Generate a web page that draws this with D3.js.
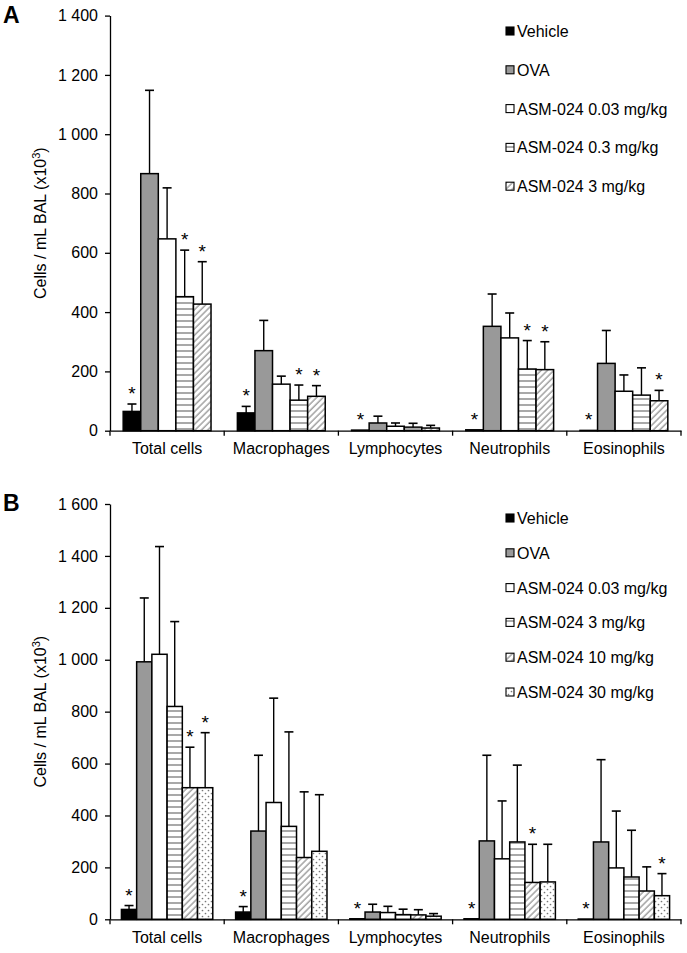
<!DOCTYPE html>
<html><head><meta charset="utf-8">
<script src="https://cdn.jsdelivr.net/npm/d3@7"></script>
<style>body{margin:0;background:#fff} text{font-family:"Liberation Sans",Arial,sans-serif;}</style>
</head><body>
<svg id="c" width="687" height="953"></svg>
<script>
// ---------- DATA ----------
const categories = ["Total cells", "Macrophages", "Lymphocytes", "Neutrophils", "Eosinophils"];

// Panel A
const seriesA = ["Vehicle", "OVA", "ASM-024 0.03 mg/kg", "ASM-024 0.3 mg/kg", "ASM-024 3 mg/kg"];
const a_vehicle      = [65, 60, 2, 3, 1];
const a_vehicleErr   = [25, 22, 0, 0, 0];
const a_ova          = [867, 270, 26, 352, 227];
const a_ovaErr       = [281, 102, 23, 109, 111];
const a_asm003       = [647, 157, 15, 313, 133];
const a_asm003Err    = [172, 27, 11, 84, 55];
const a_asm03        = [452, 103, 12, 208, 120];
const a_asm03Err     = [157, 51, 13, 96, 92];
const a_asm3         = [427, 116, 9, 206, 101];
const a_asm3Err      = [143, 36, 9, 94, 35];
const a_vehicleSig   = [1, 1, 1, 1, 1];
const a_ovaSig       = [0, 0, 0, 0, 0];
const a_asm003Sig    = [0, 0, 0, 0, 0];
const a_asm03Sig     = [1, 1, 0, 1, 0];
const a_asm3Sig      = [1, 1, 0, 1, 1];
const ticksA = [0, 200, 400, 600, 800, 1000, 1200, 1400];

// Panel B
const seriesB = ["Vehicle", "OVA", "ASM-024 0.03 mg/kg", "ASM-024 3 mg/kg", "ASM-024 10 mg/kg", "ASM-024 30 mg/kg"];
const b_vehicle      = [38, 28, 2, 2, 1];
const b_vehicleErr   = [15, 21, 0, 0, 0];
const b_ova          = [992, 340, 28, 302, 298];
const b_ovaErr       = [246, 292, 30, 330, 317];
const b_asm003       = [1021, 450, 26, 233, 198];
const b_asm003Err    = [415, 402, 24, 223, 219];
const b_asm3         = [820, 358, 18, 298, 163];
const b_asm3Err      = [327, 364, 21, 296, 180];
const b_asm10        = [507, 238, 17, 142, 109];
const b_asm10Err     = [156, 253, 20, 147, 93];
const b_asm30        = [507, 262, 12, 144, 91];
const b_asm30Err     = [212, 218, 10, 145, 85];
const b_vehicleSig   = [1, 1, 1, 1, 1];
const b_ovaSig       = [0, 0, 0, 0, 0];
const b_asm003Sig    = [0, 0, 0, 0, 0];
const b_asm3Sig      = [0, 0, 0, 0, 0];
const b_asm10Sig     = [1, 0, 0, 1, 0];
const b_asm30Sig     = [1, 0, 0, 0, 1];
const ticksB = [0, 200, 400, 600, 800, 1000, 1200, 1400, 1600];

// ---------- DRAW ----------
const svg = d3.select("#c");
const defs = svg.append("defs");

// patterns
const ph = defs.append("pattern").attr("id","hlines").attr("patternUnits","userSpaceOnUse").attr("width",6).attr("height",6);
ph.append("rect").attr("width",6).attr("height",6).attr("fill","#fff");
ph.append("line").attr("x1",0).attr("x2",6).attr("y1",3).attr("y2",3).attr("stroke","#7a7a7a").attr("stroke-width",1.3);

const pd = defs.append("pattern").attr("id","diag").attr("patternUnits","userSpaceOnUse").attr("width",4.5).attr("height",4.5).attr("patternTransform","rotate(45)");
pd.append("rect").attr("width",4.5).attr("height",4.5).attr("fill","#fff");
pd.append("line").attr("x1",1).attr("x2",1).attr("y1",0).attr("y2",4.5).attr("stroke","#7f7f7f").attr("stroke-width",1.1);

const pt = defs.append("pattern").attr("id","dots").attr("patternUnits","userSpaceOnUse").attr("width",6).attr("height",6);
pt.append("rect").attr("width",6).attr("height",6).attr("fill","#fff");
pt.append("circle").attr("cx",1.5).attr("cy",1.5).attr("r",0.85).attr("fill","#777");
pt.append("circle").attr("cx",4.5).attr("cy",4.5).attr("r",0.85).attr("fill","#777");

const fmt = d3.formatLocale({decimal:".", thousands:" ", grouping:[3], currency:["",""]}).format(",d");

function panel(cfg) {
  const g = svg.append("g");
  const y = d3.scaleLinear().domain([0, cfg.ticks[cfg.ticks.length-1]]).range([cfg.y0, cfg.y1]);
  const x = d3.scaleBand().domain(categories).range([110, 681]).padding(0);
  const xs = d3.scaleBand().domain(cfg.series.map((d,i)=>i)).range([0, x.bandwidth()]).paddingOuter(0.75).paddingInner(0);

  // y axis
  const ya = g.append("g").attr("transform","translate(110,0)")
    .call(d3.axisLeft(y).tickValues(cfg.ticks).tickFormat(fmt).tickSize(5).tickSizeOuter(0).tickPadding(7));
  ya.selectAll("path,line").attr("stroke","#000").attr("stroke-width",1.3);
  ya.selectAll("text").attr("font-size",16).attr("fill","#000").style("font-family",'"Liberation Sans",Arial,sans-serif');

  // bars
  cfg.series.forEach((s,i)=>{
    const vals = cfg.vals[i], errs = cfg.errs[i], sig = cfg.sig[i];
    const gs = g.append("g");
    categories.forEach((c,j)=>{
      const bx = x(c) + xs(i), bw = xs.bandwidth();
      const top = y(vals[j]);
      gs.append("rect").attr("x",bx).attr("y",top).attr("width",bw).attr("height",cfg.y0-top)
        .attr("fill",cfg.fills[i]).attr("stroke","#000").attr("stroke-width",1.5);
      let markTop = top;
      if (errs[j] > 0) {
        const ey = y(vals[j] + errs[j]);
        const cx = bx + bw/2;
        gs.append("line").attr("x1",cx).attr("x2",cx).attr("y1",top).attr("y2",ey).attr("stroke","#000").attr("stroke-width",1.4);
        gs.append("line").attr("x1",cx-4.5).attr("x2",cx+4.5).attr("y1",ey).attr("y2",ey).attr("stroke","#000").attr("stroke-width",1.6);
        markTop = ey;
      }
      if (sig[j]) {
        gs.append("text").attr("x",bx+bw/2).attr("y",markTop-4).attr("text-anchor","middle")
          .attr("font-size",19).text("*");
      }
    });
  });

  // x axis line + boundary ticks
  const xa = g.append("g").attr("transform",`translate(0,${cfg.y0})`)
    .call(d3.axisBottom(x).tickSize(0).tickPadding(12));
  xa.select("path").attr("stroke","#000").attr("stroke-width",1.3);
  xa.selectAll("text").attr("font-size",16).attr("fill","#000").style("font-family",'"Liberation Sans",Arial,sans-serif');
  const bounds = categories.map(c=>x(c)).concat([x(categories[categories.length-1]) + x.bandwidth()]);
  g.selectAll(".bt").data(bounds).enter().append("line")
    .attr("x1",d=>d).attr("x2",d=>d).attr("y1",cfg.y0).attr("y2",cfg.y0+5)
    .attr("stroke","#000").attr("stroke-width",1.3);

  // y title
  const t = g.append("text").attr("transform",`translate(46,${(cfg.y0+cfg.y1)/2}) rotate(-90)`)
    .attr("text-anchor","middle").attr("font-size",16);
  t.append("tspan").text("Cells / mL BAL (x10");
  t.append("tspan").attr("font-size",11).attr("dy",-6).text("3");
  t.append("tspan").attr("dy",6).text(")");

  // panel letter
  g.append("text").attr("x",cfg.letterX).attr("y",cfg.letterY).attr("font-size",23).attr("font-weight","bold").text(cfg.letter);

  // legend
  cfg.series.forEach((s,i)=>{
    const ly = cfg.legY + i*cfg.legStep;
    g.append("rect").attr("x",506).attr("y",ly-4).attr("width",8).attr("height",8)
      .attr("fill",cfg.fills[i]).attr("stroke","#000").attr("stroke-width",1.1);
    g.append("text").attr("x",517).attr("y",ly+6).attr("font-size",16).text(s);
  });
}

panel({
  series: seriesA,
  vals: [a_vehicle, a_ova, a_asm003, a_asm03, a_asm3],
  errs: [a_vehicleErr, a_ovaErr, a_asm003Err, a_asm03Err, a_asm3Err],
  sig:  [a_vehicleSig, a_ovaSig, a_asm003Sig, a_asm03Sig, a_asm3Sig],
  fills: ["#000", "#999", "#fff", "url(#hlines)", "url(#diag)"],
  ticks: ticksA, y0: 430.7, y1: 15.6,
  letter: "A", letterX: 3, letterY: 23,
  legY: 31, legStep: 38.8
});

panel({
  series: seriesB,
  vals: [b_vehicle, b_ova, b_asm003, b_asm3, b_asm10, b_asm30],
  errs: [b_vehicleErr, b_ovaErr, b_asm003Err, b_asm3Err, b_asm10Err, b_asm30Err],
  sig:  [b_vehicleSig, b_ovaSig, b_asm003Sig, b_asm3Sig, b_asm10Sig, b_asm30Sig],
  fills: ["#000", "#999", "#fff", "url(#hlines)", "url(#diag)", "url(#dots)"],
  ticks: ticksB, y0: 919.3, y1: 504,
  letter: "B", letterX: 3, letterY: 511,
  legY: 518, legStep: 34.8
});
</script>
</body></html>
